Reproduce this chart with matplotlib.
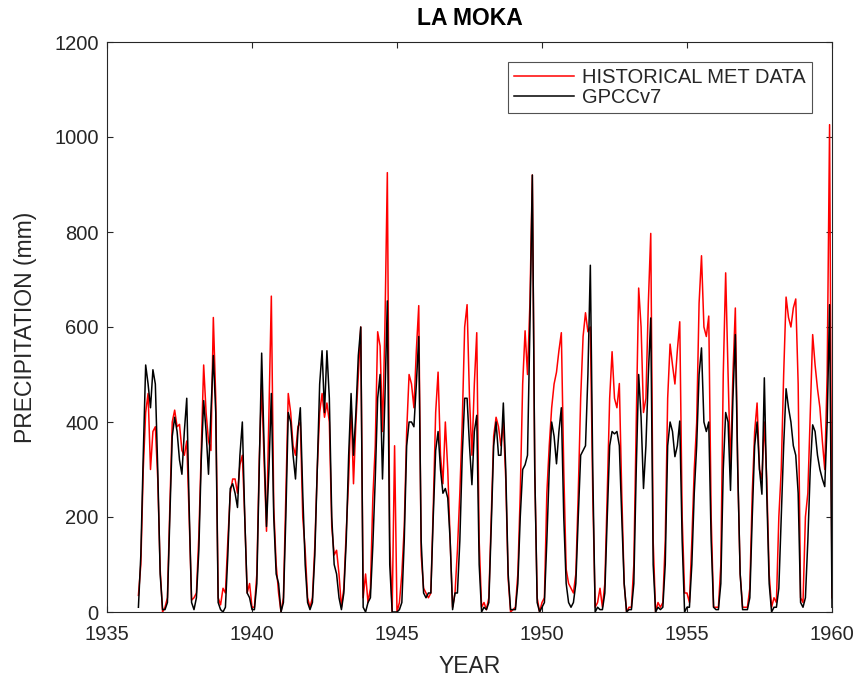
import numpy as np
import matplotlib
matplotlib.use('Agg')
import matplotlib.pyplot as plt

plt.rcParams['font.family'] = ['Liberation Sans', 'DejaVu Sans']

# monthly precipitation (mm), one row per year, Jan..Dec
years = list(range(1936, 1960))

met = [
    [35, 100, 300, 420, 460, 300, 380, 390, 280, 90, 0, 10],      # 1936
    [30, 220, 400, 425, 390, 395, 340, 330, 360, 200, 25, 30],    # 1937
    [40, 160, 340, 520, 420, 360, 340, 620, 450, 30, 15, 50],     # 1938
    [40, 150, 250, 280, 280, 250, 310, 330, 200, 40, 60, 10],     # 1939
    [10, 80, 320, 480, 320, 170, 420, 665, 220, 100, 40, 0],      # 1940
    [30, 250, 460, 420, 350, 330, 390, 400, 200, 130, 30, 10],    # 1941
    [30, 140, 300, 420, 460, 410, 440, 400, 180, 120, 130, 80],   # 1942
    [10, 50, 170, 280, 440, 270, 400, 500, 600, 30, 80, 20],      # 1943
    [50, 240, 350, 590, 560, 380, 600, 925, 150, 0, 350, 0],      # 1944
    [20, 80, 180, 380, 500, 480, 430, 550, 645, 120, 50, 40],     # 1945
    [30, 40, 220, 420, 505, 330, 270, 400, 300, 150, 10, 40],     # 1946
    [130, 250, 400, 600, 647, 450, 330, 480, 588, 150, 10, 20],   # 1947
    [5, 30, 200, 370, 410, 390, 350, 400, 280, 70, 0, 5],         # 1948
    [10, 80, 250, 480, 592, 500, 650, 920, 300, 30, 0, 20],       # 1949
    [30, 250, 350, 430, 480, 505, 550, 588, 300, 90, 60, 50],     # 1950
    [40, 80, 250, 450, 580, 630, 590, 600, 250, 10, 20, 50],      # 1951
    [10, 60, 250, 450, 548, 450, 430, 481, 250, 60, 0, 10],       # 1952
    [10, 100, 400, 682, 600, 420, 450, 650, 797, 150, 0, 20],     # 1953
    [10, 20, 150, 450, 564, 520, 480, 550, 611, 200, 40, 40],     # 1954
    [20, 150, 300, 398, 650, 750, 600, 580, 623, 200, 10, 10],    # 1955
    [10, 100, 500, 714, 500, 300, 500, 640, 300, 80, 10, 10],     # 1956
    [10, 50, 250, 380, 440, 300, 280, 400, 280, 80, 10, 30],      # 1957
    [20, 200, 300, 500, 663, 620, 600, 640, 659, 480, 30, 20],    # 1958
    [200, 250, 420, 584, 520, 470, 430, 360, 300, 500, 1026, 30], # 1959
]

gpcc = [
    [10, 120, 330, 520, 480, 430, 510, 480, 300, 80, 5, 5],       # 1936
    [20, 200, 370, 410, 380, 320, 290, 380, 450, 220, 20, 5],     # 1937
    [30, 130, 320, 445, 380, 290, 420, 540, 420, 20, 5, 0],       # 1938
    [10, 120, 260, 270, 250, 220, 330, 400, 200, 40, 30, 5],      # 1939
    [5, 60, 300, 545, 350, 180, 300, 460, 200, 80, 60, 0],        # 1940
    [20, 200, 420, 400, 330, 280, 380, 430, 250, 100, 20, 5],     # 1941
    [20, 120, 300, 480, 550, 420, 550, 450, 200, 100, 80, 30],    # 1942
    [5, 40, 150, 330, 460, 330, 420, 540, 600, 10, 0, 20],        # 1943
    [30, 140, 280, 450, 500, 280, 450, 655, 100, 0, 0, 0],        # 1944
    [5, 20, 150, 350, 400, 400, 390, 480, 580, 150, 40, 30],      # 1945
    [40, 40, 200, 340, 380, 300, 250, 260, 240, 150, 5, 40],      # 1946
    [40, 150, 330, 450, 450, 350, 268, 380, 414, 100, 0, 10],     # 1947
    [5, 20, 180, 350, 400, 330, 330, 440, 300, 80, 5, 5],         # 1948
    [5, 60, 200, 300, 310, 330, 600, 920, 300, 20, 0, 10],        # 1949
    [20, 150, 300, 400, 370, 312, 380, 430, 200, 60, 20, 10],     # 1950
    [20, 60, 200, 330, 340, 350, 500, 730, 300, 0, 10, 5],        # 1951
    [5, 40, 200, 350, 380, 375, 380, 350, 200, 60, 0, 5],         # 1952
    [5, 60, 300, 500, 410, 260, 350, 500, 619, 100, 0, 10],       # 1953
    [5, 10, 100, 350, 400, 380, 327, 350, 402, 150, 0, 10],       # 1954
    [10, 100, 250, 350, 500, 556, 400, 380, 400, 150, 10, 5],     # 1955
    [5, 60, 300, 420, 400, 256, 450, 584, 300, 80, 5, 5],         # 1956
    [5, 30, 200, 350, 400, 300, 248, 493, 250, 60, 0, 10],        # 1957
    [10, 50, 200, 350, 470, 430, 400, 350, 330, 250, 20, 10],     # 1958
    [30, 150, 300, 394, 380, 330, 300, 280, 264, 400, 647, 10],   # 1959
]

t = np.array([y + m / 12 for y in years for m in range(1, 13)])
met_v = np.array(met).ravel()
gpcc_v = np.array(gpcc).ravel()

dark = (0.15, 0.15, 0.15)

fig = plt.figure(figsize=(8.57, 6.85), dpi=100)
ax = fig.add_axes([107/857, 73/685, 725/857, 570/685])

ax.plot(t, met_v, color='red', lw=1.1, label='HISTORICAL MET DATA')
ax.plot(t, gpcc_v, color='black', lw=1.1, label='GPCCv7')

ax.set_xlim(1935, 1960)
ax.set_ylim(0, 1200)
ax.set_xticks(range(1935, 1961, 5))
ax.set_yticks(range(0, 1201, 200))
ax.tick_params(direction='in', length=4.5, width=0.8, top=True, right=True,
               labelsize=14.5, colors=dark, labelcolor=dark)
ax.tick_params(axis='x', pad=9)
ax.tick_params(axis='y', pad=6)
for s in ax.spines.values():
    s.set_color(dark)
    s.set_linewidth(0.8)

ax.set_xlabel('YEAR', fontsize=16.5, color=dark, labelpad=8)
ax.set_ylabel('PRECIPITATION (mm)', fontsize=16.5, color=dark, labelpad=12)
ax.set_title('LA MOKA', fontsize=16.5, fontweight='bold', pad=12)

leg = ax.legend(loc='upper right', fontsize=14.5, frameon=True, fancybox=False,
                handlelength=3.0, handletextpad=0.4, borderpad=0.3,
                labelspacing=0.05, borderaxespad=1.0)
leg.get_frame().set_edgecolor(dark)
leg.get_frame().set_linewidth(0.8)
for txt in leg.get_texts():
    txt.set_color(dark)

fig.savefig('out.png', dpi=100)
